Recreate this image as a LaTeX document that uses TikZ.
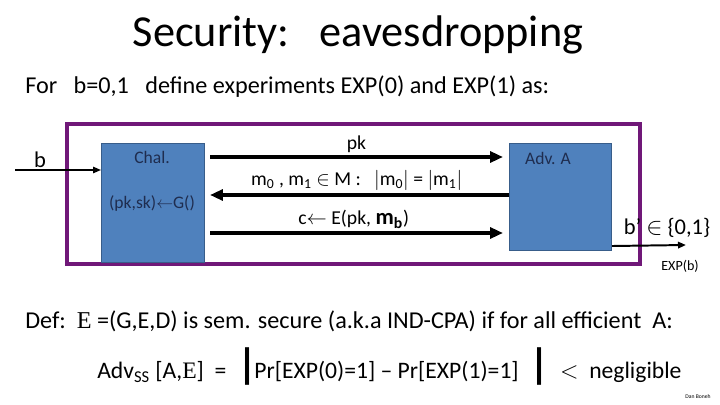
\documentclass[tikz,border=0pt]{standalone}
\usepackage{fontspec}
\setmainfont{Carlito}
\newfontfamily\serifE{Liberation Serif}
\usepackage{xcolor}
\usepackage{tikz}
\usetikzlibrary{arrows.meta, positioning, calc}

\definecolor{boxblue}{HTML}{4F81BD}
\definecolor{boxline}{HTML}{385D8A}
\definecolor{framepurple}{RGB}{112,24,120}
\definecolor{boxtext}{HTML}{1F2D4F}

\begin{document}
\begin{tikzpicture}[
    x=0.025cm, y=-0.025cm,
    party/.style={rectangle, draw=boxline, fill=boxblue, line width=0.7pt, anchor=north west, inner sep=0pt},
    boxtxt/.style={font=\fontsize{12.5}{14}\selectfont, text=boxtext, inner sep=1pt},
    msg/.style={line width=2.6pt, -{Triangle[length=3.2mm, width=2.7mm]}},
    thin/.style={line width=1pt, -{Triangle[length=2mm, width=1.6mm]}},
    lbl/.style={font=\fontsize{14}{16}\selectfont, inner sep=1pt},
    txt/.style={anchor=west, inner sep=0pt, font=\fontsize{17.2}{20}\selectfont}
]
\useasboundingbox (0,0) rectangle (720,405);

% heading
\node[font=\fontsize{31.5}{36}\selectfont] (title) at (358,35) {Security:\ \ \ eavesdropping};
\node[txt] (intro) at (25,87) {For\ \ \ b=0,1\ \ \ define experiments EXP(0) and EXP(1) as:};

% experiment frame
\draw[framepurple, line width=3pt] (67,124) rectangle (640,264);

% the two parties
\node[party, minimum width=2.575cm, minimum height=2.975cm] (chal) at (101,143) {};
\node[boxtxt] (chaltxt) at (152,157) {Chal.};
\node[boxtxt, font=\fontsize{12.5}{14}\selectfont] (keygen) at (152,203) {(pk,sk)$\leftarrow$G()};

\node[party, minimum width=2.55cm, minimum height=2.675cm] (adv) at (509,143) {};
\node[boxtxt] (advtxt) at (548,158) {Adv. A};

% input bit
\coordinate (bin) at (15,170);
\node[lbl, font=\fontsize{16}{18}\selectfont] (b) at (40,160) {b};
\draw[thin] (bin) -- ($(chal.north west)+(0,27)$);

% messages
\draw[msg] ($(chal.north east)+(5,14)$) -- ($(adv.north west)+(-6,14)$)
    node[midway, above=1pt, lbl] (pk) {pk};
\draw[msg] ($(adv.north west)+(0,52)$) -- ($(chal.north east)+(5,52)$)
    node[midway, above=1pt, lbl, xshift=-2pt] (mm) {m\textsubscript{0} , m\textsubscript{1} $\in$ M :\ \ \ $|$m\textsubscript{0}$|$ = $|$m\textsubscript{1}$|$};
\draw[msg] ($(chal.north east)+(5,90)$) -- ($(adv.north west)+(-6,90)$)
    node[midway, above=1pt, lbl, xshift=-2pt] (ct) {c$\leftarrow$ E(pk, {\fontsize{16}{18}\selectfont\bfseries m\textsubscript{b}})};

% output bit
\coordinate (bout) at (686,245);
\draw[thin, line width=1.4pt] ($(adv.south east)+(0,-5)$) -- (bout);
\node[lbl, font=\fontsize{16}{18}\selectfont] (bprime) at (667,228) {b’ $\in$ \{0,1\}};
\node[lbl, font=\fontsize{10}{12}\selectfont] (expb) at (680,266) {EXP(b)};

% definition
\node[txt] (def) at (25,321) {Def:\ \ {\serifE E} =(G,E,D) is sem. secure (a.k.a IND-CPA) if for all efficient\ \ A:};
\node[txt, font=\fontsize{16.8}{20}\selectfont] (adveq) at (97,367) {Adv\textsubscript{SS} [A,{\serifE E}]\ \ =\ \ {\fontsize{30}{30}\selectfont\bfseries|}\hspace{-2pt}Pr[EXP(0)=1] -- Pr[EXP(1)=1]\ \ {\fontsize{30}{30}\selectfont\bfseries|}\ \ $<$\ \ negligible};

\node[font=\fontsize{4}{5}\selectfont, inner sep=0pt] (author) at (698,397) {Dan Boneh};

\end{tikzpicture}
\end{document}
